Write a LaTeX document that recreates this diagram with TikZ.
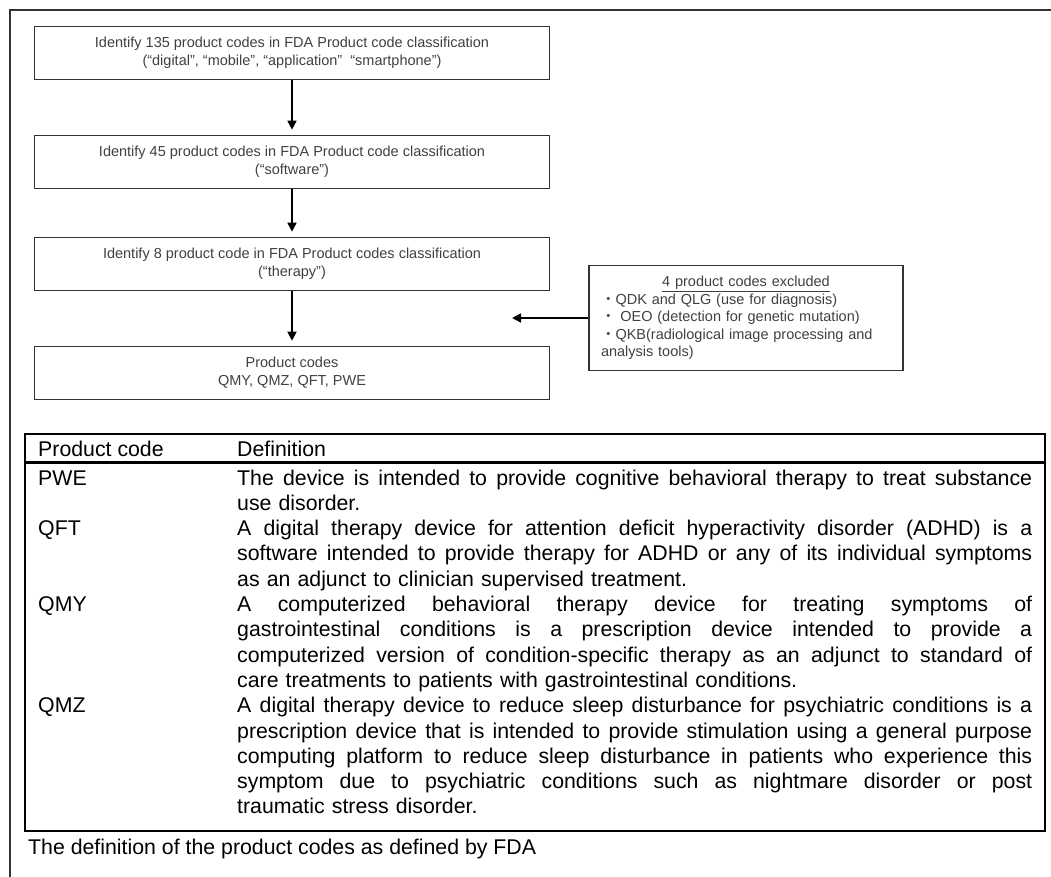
\documentclass[tikz,border=0pt]{standalone}
\usepackage{fontspec}
\setmainfont{Liberation Sans}
\newfontfamily\cjk{Noto Sans CJK JP}
\usetikzlibrary{arrows.meta}
\setlength{\parindent}{0pt}
\definecolor{framegray}{HTML}{333333}
\definecolor{flowtext}{HTML}{404040}
\newcommand{\jline}[1]{\leavevmode\hbox to 795pt{\spaceskip=0.278em plus 20em minus 0.05em\relax\xspaceskip=\spaceskip #1}}
\tikzset{
  flowbox/.style={draw=framegray, line width=1.6pt, minimum width=515pt, minimum height=53pt,
    inner sep=0pt, align=center, text=flowtext, font=\fontsize{14.5}{18}\selectfont},
  flowarrow/.style={-{Triangle[length=9pt,width=9pt]}, line width=1.6pt, draw=black},
  exbox/.style={draw=framegray, line width=1.6pt, minimum width=314pt, minimum height=105pt,
    inner xsep=12pt, inner ysep=0pt, text width=290pt, align=left, text=flowtext,
    font=\fontsize{14.5}{17.5}\selectfont},
  tabtext/.style={anchor=base west, inner sep=0pt, font=\fontsize{21.3}{25.3}\selectfont},
  deftext/.style={tabtext, text width=795pt, align=left},
  tableline/.style={draw=black, line width=2pt},
}
\begin{document}
\begin{tikzpicture}[x=1pt,y=-1pt]
\useasboundingbox (0,0) rectangle (1051,877);
% outer frame (only top and left edges visible)
\draw[framegray, line width=1.6pt, line join=miter] (10,877) -- (10,10) -- (1051,10);

% flowchart
\node[flowbox] (b1) at (292,53) {Identify 135 product codes in FDA Product code classification\\(“digital”, “mobile”, “application”\ \ “smartphone”)};
\node[flowbox] (b2) at (292,162) {Identify 45 product codes in FDA Product code classification\\(“software”)};
\node[flowbox] (b3) at (292,264) {Identify 8 product code in FDA Product codes classification\\(“therapy”)};
\node[flowbox] (b4) at (292,373) {Product codes\\QMY,\ QMZ,\ QFT, PWE};
\node[exbox] (ex) at (746,318) {\makebox[\linewidth][c]{\underline{4 product codes excluded}}\\
{\cjk ・}QDK and QLG\ (use for diagnosis)\\
{\cjk ・}\ OEO (detection for genetic mutation)\\
{\cjk ・}QKB(radiological image processing and\\
analysis tools)};
\coordinate (extip) at (512,318);

\draw[flowarrow, shorten >=5pt] (b1.south) -- (b2.north);
\draw[flowarrow, shorten >=5pt] (b2.south) -- (b3.north);
\draw[flowarrow, shorten >=5pt] (b3.south) -- (b4.north);
\draw[flowarrow] (ex.west) -- (extip);

% table
\draw[tableline] (25,434) rectangle (1045,831);
\draw[draw=black, line width=3pt] (25,462) -- (1045,462);
\node[tabtext] (hcode) at (38,456) {Product code};
\node[tabtext] (hdef) at (237,456) {Definition};

\node[tabtext] (cpwe) at (38,485) {PWE};
\node[deftext] (dpwe) at (237,485) {\jline{The device is intended to provide cognitive behavioral therapy to treat substance}\\
use disorder.};

\node[tabtext] (cqft) at (38,535.6) {QFT};
\node[deftext] (dqft) at (237,535.6) {\jline{A digital therapy device for attention deficit hyperactivity disorder (ADHD) is a}\\
\jline{software intended to provide therapy for ADHD or any of its individual symptoms}\\
as an adjunct to clinician supervised treatment.};

\node[tabtext] (cqmy) at (38,611.5) {QMY};
\node[deftext] (dqmy) at (237,611.5) {\jline{A computerized behavioral therapy device for treating symptoms of}\\
\jline{gastrointestinal conditions is a prescription device intended to provide a}\\
\jline{computerized version of condition-specific therapy as an adjunct to standard of}\\
care treatments to patients with gastrointestinal conditions.};

\node[tabtext] (cqmz) at (38,712.7) {QMZ};
\node[deftext] (dqmz) at (237,712.7) {\jline{A digital therapy device to reduce sleep disturbance for psychiatric conditions is a}\\
\jline{prescription device that is intended to provide stimulation using a general purpose}\\
\jline{computing platform to reduce sleep disturbance in patients who experience this}\\
\jline{symptom due to psychiatric conditions such as nightmare disorder or post}\\
traumatic stress disorder.};

\node[tabtext] (cap) at (28,854) {The definition of the product codes as defined by FDA};
\end{tikzpicture}
\end{document}
